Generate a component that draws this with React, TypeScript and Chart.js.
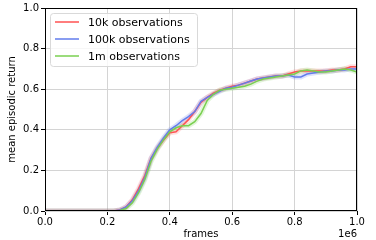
import React, { useEffect, useRef } from "react";
import { Chart, registerables } from "chart.js";

Chart.register(...registerables);

const frames = [
  0, 0.02, 0.04, 0.06, 0.08, 0.1, 0.12, 0.14, 0.16, 0.18, 0.2, 0.22, 0.24, 0.26, 0.28, 0.3, 0.32, 0.34, 0.36, 0.38,
  0.4, 0.42, 0.44, 0.46, 0.48, 0.5, 0.52, 0.54, 0.56, 0.58, 0.6, 0.62, 0.64, 0.66, 0.68, 0.7, 0.72, 0.74, 0.76, 0.78,
  0.8, 0.82, 0.84, 0.86, 0.88, 0.9, 0.92, 0.94, 0.96, 0.98, 1.0,
];

const obs10k = [
  0, 0, 0, 0, 0, 0, 0, 0, 0, 0, 0, 0, 0.005, 0.02, 0.055, 0.11, 0.175, 0.26, 0.31, 0.35,
  0.385, 0.39, 0.42, 0.45, 0.49, 0.535, 0.56, 0.58, 0.595, 0.605, 0.615, 0.62, 0.63, 0.64, 0.65, 0.655, 0.66, 0.665, 0.665, 0.675,
  0.685, 0.69, 0.69, 0.69, 0.69, 0.69, 0.695, 0.695, 0.7, 0.71, 0.71,
];

const obs100k = [
  0, 0, 0, 0, 0, 0, 0, 0, 0, 0, 0, 0, 0.005, 0.02, 0.05, 0.1, 0.165, 0.26, 0.315, 0.36,
  0.4, 0.42, 0.445, 0.465, 0.49, 0.54, 0.56, 0.575, 0.59, 0.605, 0.61, 0.62, 0.63, 0.64, 0.65, 0.655, 0.66, 0.665, 0.665, 0.67,
  0.66, 0.66, 0.675, 0.68, 0.685, 0.69, 0.69, 0.695, 0.695, 0.7, 0.7,
];

const obs1m = [
  0, 0, 0, 0, 0, 0, 0, 0, 0, 0, 0, 0, 0.003, 0.012, 0.04, 0.09, 0.155, 0.245, 0.305, 0.35,
  0.39, 0.41, 0.42, 0.42, 0.44, 0.48, 0.545, 0.575, 0.595, 0.6, 0.605, 0.61, 0.615, 0.625, 0.64, 0.65, 0.655, 0.66, 0.665, 0.67,
  0.675, 0.69, 0.695, 0.69, 0.685, 0.685, 0.69, 0.695, 0.7, 0.695, 0.685,
];

const xTicks = [0, 0.2, 0.4, 0.6, 0.8, 1.0];
const yTicks = [0, 0.2, 0.4, 0.6, 0.8, 1.0];

const seriesNames = ["10k observations", "100k observations", "1m observations"];
const seriesColors = ["rgb(255,82,82)", "rgb(98,124,236)", "rgb(122,208,80)"];
const bandColors = ["rgba(255,82,82,0.18)", "rgba(98,124,236,0.22)", "rgba(122,208,80,0.22)"];

const FONT = "'DejaVu Sans', sans-serif";

export default function App() {
  const ref = useRef<HTMLCanvasElement | null>(null);

  useEffect(() => {
    document.body.style.margin = "0";
    const canvas = ref.current;
    if (!canvas) return;
    const seriesData = [obs10k, obs100k, obs1m];
    const toPts = (arr: number[]) => frames.map((f, i) => ({ x: f, y: arr[i] }));

    const datasets: any[] = [];
    seriesData.forEach((arr, i) => {
      datasets.push({
        label: seriesNames[i] + " band",
        data: toPts(arr),
        borderColor: bandColors[i],
        borderWidth: 5,
        pointRadius: 0,
        tension: 0,
        order: 10 + i,
      });
    });
    seriesData.forEach((arr, i) => {
      datasets.push({
        label: seriesNames[i],
        data: toPts(arr),
        borderColor: seriesColors[i],
        borderWidth: 1.5,
        pointRadius: 0,
        tension: 0,
        order: 3 - i,
      });
    });

    const overlay = {
      id: "overlay",
      afterDraw(chart: any) {
        const { ctx, chartArea } = chart;
        const { left, right, top, bottom } = chartArea;
        ctx.save();
        // frame
        ctx.strokeStyle = "#000";
        ctx.lineWidth = 1;
        ctx.strokeRect(left + 0.5, top + 0.5, right - left - 1, bottom - top - 1);
        // legend
        const bx = 50.5, by = 13.5, bw = 147, bh = 53, r = 3;
        ctx.beginPath();
        ctx.moveTo(bx + r, by);
        ctx.lineTo(bx + bw - r, by);
        ctx.quadraticCurveTo(bx + bw, by, bx + bw, by + r);
        ctx.lineTo(bx + bw, by + bh - r);
        ctx.quadraticCurveTo(bx + bw, by + bh, bx + bw - r, by + bh);
        ctx.lineTo(bx + r, by + bh);
        ctx.quadraticCurveTo(bx, by + bh, bx, by + bh - r);
        ctx.lineTo(bx, by + r);
        ctx.quadraticCurveTo(bx, by, bx + r, by);
        ctx.closePath();
        ctx.fillStyle = "rgba(255,255,255,0.8)";
        ctx.fill();
        ctx.strokeStyle = "#d9d9d9";
        ctx.stroke();
        const rows = [22, 39, 56];
        ctx.font = "11px " + FONT;
        ctx.textBaseline = "middle";
        ctx.textAlign = "left";
        rows.forEach((yy, i) => {
          ctx.strokeStyle = seriesColors[i];
          ctx.lineWidth = 1.5;
          ctx.beginPath();
          ctx.moveTo(55, yy);
          ctx.lineTo(79, yy);
          ctx.stroke();
          ctx.fillStyle = "#000";
          ctx.fillText(seriesNames[i], 88, yy + 1);
        });
        // offset text
        ctx.font = "10px " + FONT;
        ctx.textAlign = "right";
        ctx.fillText("1e6", right, 234);
        ctx.restore();
      },
    };

    const chart = new Chart(canvas, {
      type: "line",
      data: { datasets },
      options: {
        animation: false,
        responsive: false,
        maintainAspectRatio: false,
        layout: { padding: { top: 7, right: 19, bottom: 0, left: 0 } },
        plugins: {
          legend: { display: false },
          tooltip: { enabled: false },
        },
        scales: {
          x: {
            type: "linear",
            min: 0,
            max: 1,
            afterBuildTicks: (scale: any) => {
              scale.ticks = xTicks.map((v) => ({ value: v }));
            },
            afterFit: (scale: any) => {
              scale.height = 29;
            },
            ticks: {
              color: "#000",
              font: { family: FONT, size: 10 },
              padding: 1,
              maxRotation: 0,
              callback: (v: any) => Number(v).toFixed(1),
            },
            grid: { color: "#d4d4d4", tickColor: "#000", tickLength: 4, lineWidth: 1 },
            border: { display: false },
            title: {
              display: true,
              text: "frames",
              color: "#000",
              font: { family: FONT, size: 10 },
              padding: { top: 0, bottom: 0 },
            },
          },
          y: {
            type: "linear",
            min: 0,
            max: 1,
            afterBuildTicks: (scale: any) => {
              scale.ticks = yTicks.map((v) => ({ value: v }));
            },
            afterFit: (scale: any) => {
              scale.width = 45;
            },
            ticks: {
              color: "#000",
              font: { family: FONT, size: 10 },
              padding: 2,
              callback: (v: any) => Number(v).toFixed(1),
            },
            grid: { color: "#d4d4d4", tickColor: "#000", tickLength: 4, lineWidth: 1 },
            border: { display: false },
            title: {
              display: true,
              text: "mean episodic return",
              color: "#000",
              font: { family: FONT, size: 10 },
              padding: { top: 6, bottom: 0 },
            },
          },
        },
      },
      plugins: [overlay],
    });
    return () => chart.destroy();
  }, []);

  return <canvas ref={ref} width={376} height={240} style={{ display: "block" }} />;
}
